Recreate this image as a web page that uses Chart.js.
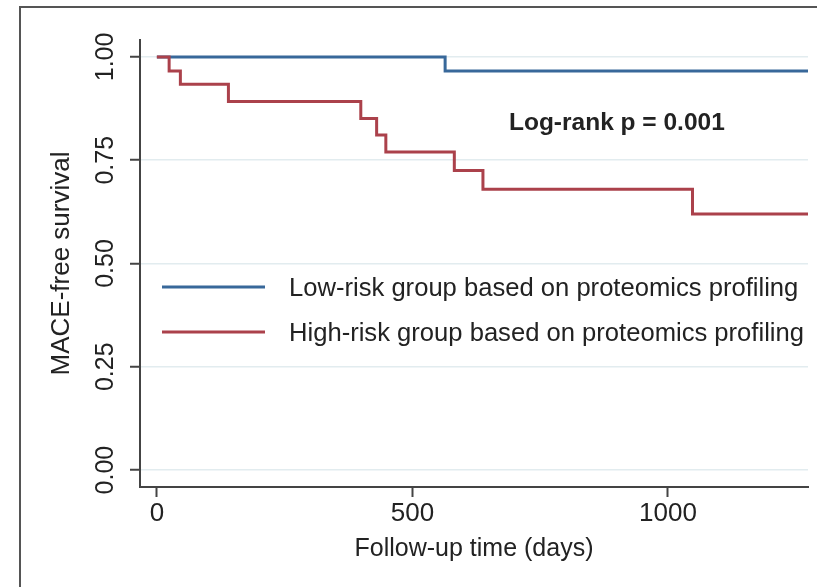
<!DOCTYPE html>
<html>
<head>
<meta charset="utf-8">
<script src="https://cdn.jsdelivr.net/npm/chart.js@4.4.1/dist/chart.umd.min.js"></script>
<style>
  html, body { margin: 0; padding: 0; background: #fff; overflow: hidden; }
  #wrap { position: relative; width: 817px; height: 587px; overflow: hidden; }
  #frame { position: absolute; left: 19px; top: 6px; width: 900px; height: 700px; border: 2px solid #555; }
  #kmChart { position: absolute; left: 0; top: 0; }
</style>
</head>
<body>
<div id="wrap">
  <div id="frame"></div>
  <canvas id="kmChart" width="817" height="587"></canvas>
</div>
<script>
// Kaplan-Meier step points: time (days) and survival just after that time
var groupLabels = [
    'Low-risk group based on proteomics profiling',
    'High-risk group based on proteomics profiling'
];
var lowTimes = [0, 564, 1274];
var lowSurv = [1.00, 0.966, 0.966];
var highTimes = [0, 24, 46, 140, 399, 430, 448, 582, 638, 1048, 1274];
var highSurv = [1.00, 0.966, 0.934, 0.892, 0.851, 0.811, 0.770, 0.725, 0.680, 0.620, 0.620];
var xTicks = [0, 500, 1000];
var yTicks = [0, 0.25, 0.5, 0.75, 1];
var pValueText = 'Log-rank p = 0.001';

var FONT = '"Liberation Sans", Arial, Helvetica, sans-serif';
var TXT = '#222';

function toPoints(xs, ys) {
    return xs.map(function (x, i) { return { x: x, y: ys[i] }; });
}

var overlay = {
    id: 'overlay',
    afterDraw: function (chart) {
        var ctx = chart.ctx;
        var ys = chart.scales.y;
        var xs = chart.scales.x;
        ctx.save();

        // rotated y tick labels
        ctx.fillStyle = TXT;
        ctx.font = '25px ' + FONT;
        ctx.textAlign = 'center';
        ctx.textBaseline = 'middle';
        yTicks.forEach(function (v) {
            ctx.save();
            ctx.translate(106, ys.getPixelForValue(v));
            ctx.rotate(-Math.PI / 2);
            ctx.fillText(v.toFixed(2), 0, 0);
            ctx.restore();
        });

        // p value
        ctx.font = 'bold 24.5px ' + FONT;
        ctx.fillText(pValueText, xs.getPixelForValue(900), ys.getPixelForValue(0.84));

        // legend inside plot
        ctx.font = '25.6px ' + FONT;
        ctx.textAlign = 'left';
        chart.data.datasets.forEach(function (ds, i) {
            var y = 287 + i * 45;
            ctx.strokeStyle = ds.borderColor;
            ctx.lineWidth = 3;
            ctx.beginPath();
            ctx.moveTo(162, y);
            ctx.lineTo(265, y);
            ctx.stroke();
            ctx.fillStyle = TXT;
            ctx.fillText(ds.label, 289, y + 2);
        });
        ctx.restore();
    }
};

var ctx = document.getElementById('kmChart').getContext('2d');
var chart = new Chart(ctx, {
    type: 'line',
    data: {
        datasets: [{
            label: groupLabels[0],
            data: toPoints(lowTimes, lowSurv),
            borderColor: '#38689a',
            borderWidth: 3,
            stepped: 'before',
            pointRadius: 0,
            fill: false,
            order: 1
        }, {
            label: groupLabels[1],
            data: toPoints(highTimes, highSurv),
            borderColor: '#ab414b',
            borderWidth: 3,
            stepped: 'before',
            pointRadius: 0,
            fill: false,
            order: 0
        }]
    },
    options: {
        responsive: false,
        animation: false,
        layout: { padding: { left: 0, right: 9, top: 40, bottom: 0 } },
        plugins: {
            legend: { display: false },
            tooltip: { enabled: false }
        },
        scales: {
            x: {
                type: 'linear',
                min: -33,
                max: 1274,
                afterBuildTicks: function (scale) {
                    scale.ticks = xTicks.map(function (v) { return { value: v }; });
                },
                afterFit: function (scale) { scale.height = 100; },
                grid: { drawOnChartArea: false, tickLength: 10, tickColor: '#444', tickWidth: 2 },
                border: { display: true, color: '#444', width: 2 },
                ticks: {
                    color: TXT,
                    padding: 1,
                    font: { family: FONT, size: 26 },
                    maxRotation: 0,
                    callback: function (v) { return String(v); }
                },
                title: {
                    display: true,
                    text: 'Follow-up time (days)',
                    color: TXT,
                    font: { family: FONT, size: 25 },
                    padding: { top: 0, bottom: 23 }
                }
            },
            y: {
                type: 'linear',
                min: -0.041,
                max: 1.041,
                afterBuildTicks: function (scale) {
                    scale.ticks = yTicks.map(function (v) { return { value: v }; });
                },
                afterFit: function (scale) { scale.width = 140; },
                grid: { color: '#e2ecef', lineWidth: 1.5, tickLength: 10, tickColor: '#444', tickWidth: 2 },
                border: { display: true, color: '#444', width: 2 },
                ticks: { display: false },
                title: {
                    display: true,
                    text: 'MACE-free survival',
                    color: TXT,
                    font: { family: FONT, size: 26 },
                    padding: { top: 46, bottom: 0 }
                }
            }
        }
    },
    plugins: [overlay]
});
</script>
</body>
</html>
